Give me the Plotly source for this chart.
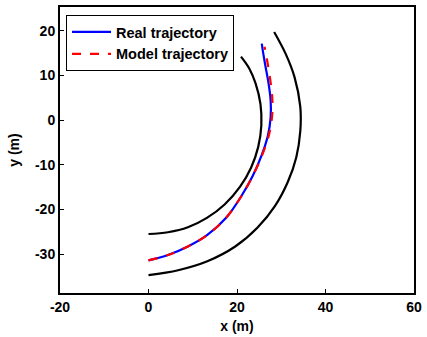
import plotly.graph_objects as go

# Road boundaries (m)
inner_x = [0.0, 4.4, 8.9, 13.2, 17.2, 20.7, 23.2, 24.8, 25.5, 25.3, 24.2, 22.8, 20.9]
inner_y = [-25.5, -25.1, -24.0, -21.9, -18.9, -14.9, -10.6, -6.0, -1.2, 3.6, 8.2, 11.5, 14.2]

outer_x = [0.0, 6.7, 13.3, 19.6, 24.6, 28.6, 31.5, 33.4, 34.3, 34.3, 33.0, 31.0, 28.4]
outer_y = [-34.7, -33.6, -31.6, -28.3, -24.1, -19.2, -13.8, -8.3, -2.5, 3.0, 9.6, 14.8, 19.7]

# Real trajectory (m)
real_x = [0.0, 4.4, 8.9, 13.3, 17.6, 21.0, 23.6, 25.6, 27.0, 27.6, 27.6, 27.1, 26.4, 25.9, 25.6]
real_y = [-31.4, -30.2, -28.3, -25.7, -21.8, -17.0, -12.4, -7.8, -3.4, 0.6, 4.4, 8.4, 12.2, 15.1, 17.1]

# Model trajectory (m)
model_x = [0.0, 4.4, 8.9, 13.3, 17.6, 21.0, 23.6, 25.7, 27.2, 27.9, 28.0, 27.6, 27.0, 26.5, 26.2]
model_y = [-31.4, -30.2, -28.3, -25.7, -21.8, -17.0, -12.4, -7.8, -3.4, 0.6, 4.4, 8.4, 12.2, 15.1, 16.4]

x_ticks = [-20, 0, 20, 40, 60]
y_ticks = [-30, -20, -10, 0, 10, 20]

font_family = "Arial, Liberation Sans, sans-serif"

fig = go.Figure()
fig.add_trace(go.Scatter(x=inner_x, y=inner_y, mode="lines", line=dict(color="black", width=2.2, shape="spline", smoothing=1),
                         showlegend=False, hoverinfo="skip"))
fig.add_trace(go.Scatter(x=outer_x, y=outer_y, mode="lines", line=dict(color="black", width=2.2, shape="spline", smoothing=1),
                         showlegend=False, hoverinfo="skip"))
fig.add_trace(go.Scatter(x=real_x, y=real_y, mode="lines", name="Real trajectory",
                         line=dict(color="#0000ff", width=2.2, shape="spline", smoothing=1)))
fig.add_trace(go.Scatter(x=model_x, y=model_y, mode="lines", name="Model trajectory",
                         line=dict(color="#ff0000", width=2.2, dash="dash", shape="spline", smoothing=1)))

axis_common = dict(
    showline=True, linecolor="black", linewidth=2, mirror=True,
    ticks="inside", ticklen=4, tickwidth=1, tickcolor="black",
    showgrid=False, zeroline=False, ticklabeloverflow="allow",
    tickfont=dict(family=font_family, size=14, color="black", weight="bold"),
)

fig.update_layout(
    width=427, height=337,
    margin=dict(l=60, r=6, t=5, b=44),
    paper_bgcolor="white", plot_bgcolor="white",
    font=dict(family=font_family, color="black"),
    xaxis=dict(range=[-20, 60], tickvals=x_ticks, ticktext=[str(v) for v in x_ticks],
               title=dict(text="x (m)", font=dict(family=font_family, size=14, color="black", weight="bold"), standoff=7),
               **axis_common),
    yaxis=dict(range=[-38.7, 25.3], tickvals=y_ticks, ticktext=[str(v) for v in y_ticks],
               title=dict(text="y (m)", font=dict(family=font_family, size=14, color="black", weight="bold"), standoff=12),
               **axis_common),
    legend=dict(x=0.017, y=0.972, xanchor="left", yanchor="top",
                bordercolor="black", borderwidth=1, bgcolor="white",
                font=dict(family=font_family, size=14.5, color="black", weight="bold"),
                tracegroupgap=0, itemwidth=39),
)

fig.write_html("out.html")
